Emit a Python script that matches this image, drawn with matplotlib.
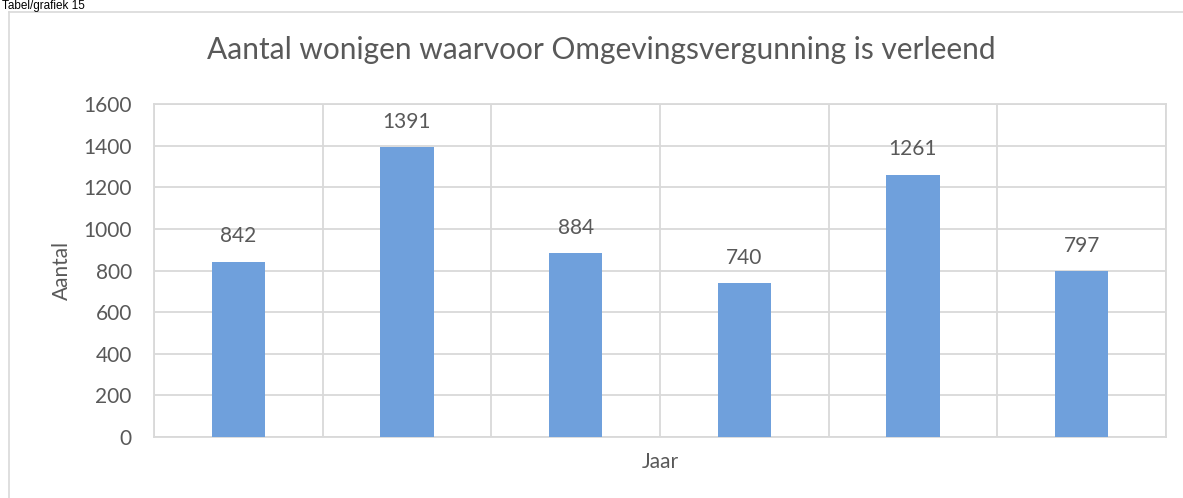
import numpy as np
import matplotlib
matplotlib.use('Agg')
import matplotlib.pyplot as plt
from matplotlib.lines import Line2D

# Data (year labels are not shown in the original)
values = [842, 1391, 884, 740, 1261, 797]
y_ticks = [0, 200, 400, 600, 800, 1000, 1200, 1400, 1600]

title = 'Aantal wonigen waarvoor Omgevingsvergunning is verleend'
caption = 'Tabel/grafiek 15'

text_col = '#595959'
grid_col = '#D9D9D9'
bar_col = '#6FA0DC'

plt.rcParams['font.family'] = ['Lato', 'DejaVu Sans']

W, H = 1183, 498
fig = plt.figure(figsize=(W / 100, H / 100), dpi=100)

# Outer frame (partially cut off in the reference)
fig.add_artist(Line2D([9 / W, 1.0], [1 - 12 / H, 1 - 12 / H], color=grid_col, lw=1.2, transform=fig.transFigure))
fig.add_artist(Line2D([9 / W, 9 / W], [0, 1 - 12 / H], color=grid_col, lw=1.2, transform=fig.transFigure))
fig.text(0.002, 1.0, caption, fontsize=8.5, family='Liberation Sans', color='black', va='top', ha='left')

ax = fig.add_axes([154 / W, 1 - 437 / H, (1166 - 154) / W, (437 - 104) / H])

x = np.arange(len(values))
bars = ax.bar(x, values, width=0.315, color=bar_col, zorder=3)

for xi, v in zip(x, values):
    ax.annotate(str(v), (xi, v), textcoords='offset points', xytext=(0, 11),
                ha='center', va='bottom', fontsize=15, color=text_col)

ax.set_xlim(-0.5, len(values) - 0.5)
ax.set_ylim(0, 1600)
ax.set_yticks(y_ticks)
ax.set_yticklabels([str(t) for t in y_ticks], fontsize=15, color=text_col)
ax.set_xticks([])
ax.set_xticks(np.arange(len(values) + 1) - 0.5, minor=True)
ax.tick_params(axis='both', which='both', length=0, pad=16)
ax.grid(axis='y', color=grid_col, lw=1.3, zorder=0)
ax.grid(axis='x', which='minor', color=grid_col, lw=1.3, zorder=0)

for side in ['top', 'right', 'left', 'bottom']:
    ax.spines[side].set_color(grid_col)
    ax.spines[side].set_linewidth(1.3)

ax.set_xlabel('Jaar', fontsize=15, color=text_col, va='center')
ax.xaxis.set_label_coords(0.5, (437 - 462) / 333)
ax.set_ylabel('Aantal', fontsize=15, color=text_col, va='center')
ax.yaxis.set_label_coords((62 - 154) / 1012, 0.5)

fig.text(601 / W, 1 - 50 / H, title, fontsize=21.5, color=text_col, ha='center', va='center')

fig.savefig('out.png', dpi=100)
